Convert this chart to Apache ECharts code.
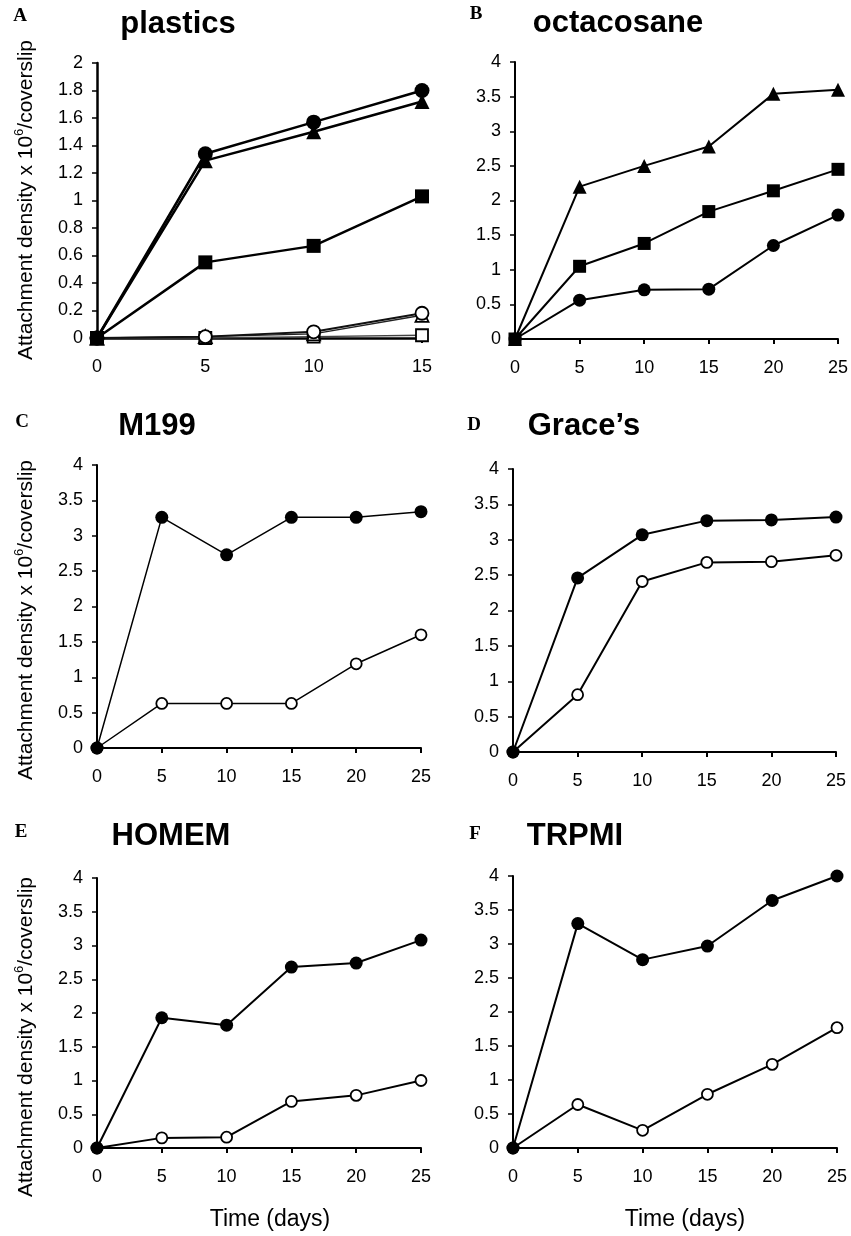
<!DOCTYPE html>
<html>
<head>
<meta charset="utf-8">
<script src="https://cdn.jsdelivr.net/npm/echarts@6/dist/echarts.min.js"></script>
<style>
  html, body { margin: 0; padding: 0; background: #fff; }
  #chart { width: 851px; height: 1236px; }
</style>
</head>
<body>
<div id="chart"></div>
<script>
// time points (days)
var days15 = [0, 5, 10, 15];
var days25 = [0, 5, 10, 15, 20, 25];

// A - plastics
var plasticsCircle = [0, 1.34, 1.57, 1.80];
var plasticsTriangle = [0, 1.29, 1.50, 1.72];
var plasticsSquare = [0, 0.55, 0.67, 1.03];
var plasticsOpenCircle = [0, 0.01, 0.045, 0.18];
var plasticsOpenTriangle = [0, 0.01, 0.03, 0.165];
var plasticsOpenSquare = [0, 0.0, 0.01, 0.02];

// B - octacosane
var octaTriangle = [0, 2.20, 2.50, 2.78, 3.54, 3.60];
var octaSquare = [0, 1.05, 1.38, 1.84, 2.14, 2.45];
var octaCircle = [0, 0.56, 0.71, 0.72, 1.35, 1.79];

// C - M199
var m199Filled = [0, 3.26, 2.73, 3.26, 3.26, 3.34];
var m199Open = [0, 0.63, 0.63, 0.63, 1.19, 1.60];

// D - Grace's
var graceFilled = [0, 2.46, 3.07, 3.27, 3.28, 3.32];
var graceOpen = [0, 0.81, 2.41, 2.68, 2.69, 2.78];

// E - HOMEM
var homemFilled = [0, 1.93, 1.82, 2.68, 2.74, 3.08];
var homemOpen = [0, 0.15, 0.16, 0.69, 0.78, 1.00];

// F - TRPMI
var trpmiFilled = [0, 3.30, 2.77, 2.97, 3.64, 4.00];
var trpmiOpen = [0, 0.64, 0.26, 0.79, 1.23, 1.77];

var panelTitles = ['plastics', 'octacosane', 'M199', 'Grace\u2019s', 'HOMEM', 'TRPMI'];
var panelLetters = ['A', 'B', 'C', 'D', 'E', 'F'];

var font = '"Liberation Sans", Arial, Helvetica, sans-serif';

// plot areas for the six panels
var grids = [
  {left: 97, top: 63, width: 325, height: 275},
  {left: 515, top: 62, width: 323, height: 277},
  {left: 97, top: 465, width: 324, height: 283},
  {left: 513, top: 469, width: 323, height: 283},
  {left: 97, top: 878, width: 324, height: 270},
  {left: 513, top: 876, width: 324, height: 272}
];
var xMax = [15, 25, 25, 25, 25, 25];
var yMax = [2, 4, 4, 4, 4, 4];
var yStep = [0.2, 0.5, 0.5, 0.5, 0.5, 0.5];

function pairs(days, vals) {
  return days.map(function (d, i) { return [d, vals[i]]; });
}

function line(idx, days, vals, sym, filled, size, lw, lineColor) {
  return {
    type: 'line',
    xAxisIndex: idx,
    yAxisIndex: idx,
    data: pairs(days, vals),
    symbol: sym,
    symbolSize: size,
    showSymbol: true,
    clip: false,
    silent: true,
    lineStyle: {color: lineColor || '#000', width: lw},
    itemStyle: {
      color: filled ? '#000' : '#fff',
      borderColor: '#000',
      borderWidth: filled ? 0 : 1.8
    }
  };
}

var xAxes = grids.map(function (g, i) {
  return {
    type: 'value', gridIndex: i, min: 0, max: xMax[i], interval: 5,
    axisLine: {lineStyle: {color: '#000', width: i === 0 ? 2.5 : 2}},
    axisTick: {show: true, length: 5, lineStyle: {color: '#000', width: 2}},
    axisLabel: {color: '#000', fontSize: 18, fontFamily: font, margin: 20},
    splitLine: {show: false}
  };
});
var yAxes = grids.map(function (g, i) {
  return {
    type: 'value', gridIndex: i, min: 0, max: yMax[i], interval: yStep[i],
    axisLine: {show: true, lineStyle: {color: '#000', width: i === 0 ? 2.5 : 2}},
    axisTick: {show: true, length: 5, lineStyle: {color: '#000', width: 1.5}},
    axisLabel: {color: '#000', fontSize: 18, fontFamily: font, margin: 14},
    splitLine: {show: false}
  };
});

var series = [
  line(0, days15, plasticsOpenSquare, 'rect', false, 12, 1.5, '#444'),
  line(0, days15, plasticsOpenTriangle, 'triangle', false, 13, 1.5, '#222'),
  line(0, days15, plasticsOpenCircle, 'circle', false, 13, 2, '#111'),
  line(0, days15, plasticsTriangle, 'triangle', true, 15, 2.5),
  line(0, days15, plasticsCircle, 'circle', true, 15, 2.5),
  line(0, days15, plasticsSquare, 'rect', true, 14, 2.5),

  line(1, days25, octaCircle, 'circle', true, 13, 2),
  line(1, days25, octaTriangle, 'triangle', true, 14, 2),
  line(1, days25, octaSquare, 'rect', true, 13, 2),

  line(2, days25, m199Open, 'circle', false, 11, 1.5),
  line(2, days25, m199Filled, 'circle', true, 13, 1.5),

  line(3, days25, graceOpen, 'circle', false, 11, 2),
  line(3, days25, graceFilled, 'circle', true, 13, 2),

  line(4, days25, homemOpen, 'circle', false, 11, 2),
  line(4, days25, homemFilled, 'circle', true, 13, 2),

  line(5, days25, trpmiOpen, 'circle', false, 11, 2),
  line(5, days25, trpmiFilled, 'circle', true, 13, 2)
];

// titles, panel letters and axis names
var titlePos = [[178, 24], [618, 23], [157, 426], [584, 426], [171, 836], [575, 836]];
var letterPos = [[20, 16], [476, 14], [22, 422], [474, 425], [21, 832], [475, 834]];
var graphics = [];
panelTitles.forEach(function (t, i) {
  graphics.push({
    type: 'text', x: titlePos[i][0], y: titlePos[i][1], silent: true,
    style: {text: t, font: 'bold 31px ' + font, fill: '#000',
      align: 'center', verticalAlign: 'middle', textAlign: 'center', textVerticalAlign: 'middle'}
  });
  graphics.push({
    type: 'text', x: letterPos[i][0], y: letterPos[i][1], silent: true,
    style: {text: panelLetters[i], font: 'bold 19px "Liberation Serif", "Times New Roman", serif', fill: '#000',
      align: 'center', verticalAlign: 'middle', textAlign: 'center', textVerticalAlign: 'middle'}
  });
});
[200, 620, 1037].forEach(function (cy) {
  graphics.push({
    type: 'text', x: 25, y: cy, rotation: Math.PI / 2, silent: true,
    style: {
      text: '{n|Attachment density x 10}{s|6}{n|/coverslip}',
      fill: '#000', align: 'center', verticalAlign: 'middle', textAlign: 'center', textVerticalAlign: 'middle',
      rich: {
        n: {fontSize: 21, fontFamily: font, lineHeight: 24, verticalAlign: 'bottom'},
        s: {fontSize: 13, fontFamily: font, lineHeight: 24, verticalAlign: 'top', padding: [0, 0, 0, 0]}
      }
    }
  });
});
[270, 685].forEach(function (cx) {
  graphics.push({
    type: 'text', x: cx, y: 1220, silent: true,
    style: {text: 'Time (days)', font: '23px ' + font, fill: '#000',
      align: 'center', verticalAlign: 'middle', textAlign: 'center', textVerticalAlign: 'middle'}
  });
});

var chart = echarts.init(document.getElementById('chart'));
chart.setOption({
  animation: false,
  backgroundColor: '#fff',
  grid: grids,
  xAxis: xAxes,
  yAxis: yAxes,
  series: series,
  graphic: graphics
});
window.onresize = chart.resize;
</script>
</body>
</html>
